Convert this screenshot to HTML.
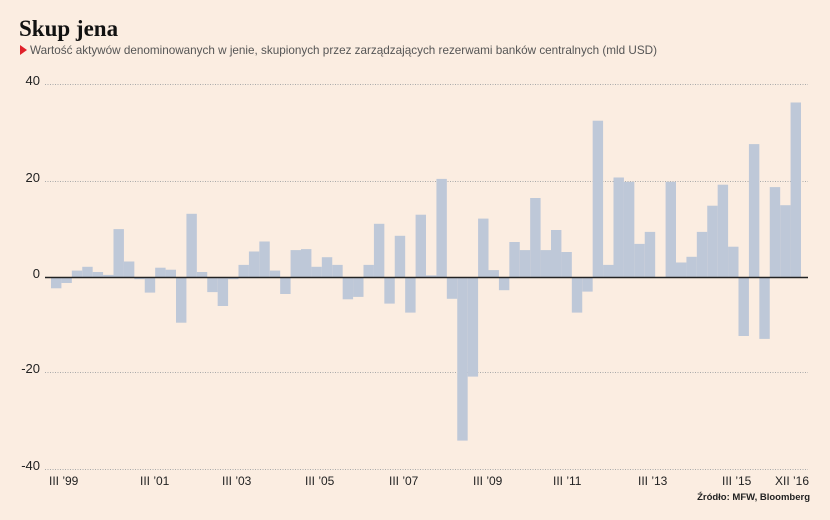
<!DOCTYPE html>
<html><head><meta charset="utf-8"><style>
html,body{margin:0;padding:0;background:#fbede1;}
svg{display:block;}
</style></head><body>
<svg width="830" height="520" xmlns="http://www.w3.org/2000/svg" font-family="Liberation Sans, sans-serif">
<rect width="830" height="520" fill="#fbede1"/>
<text x="19" y="36" font-family="Liberation Serif, serif" font-weight="bold" font-size="23" fill="#111">Skup jena</text>
<polygon points="20,45 27,50 20,55" fill="#e0202a"/>
<text x="30" y="54" font-size="12" fill="#555" textLength="627" lengthAdjust="spacingAndGlyphs">Wartość aktywów denominowanych w jenie, skupionych przez zarządzających rezerwami banków centralnych (mld USD)</text>
<g stroke="#aaa" stroke-width="1" stroke-dasharray="1,1.5">
<line x1="45" y1="84.5" x2="808" y2="84.5"/>
<line x1="45" y1="181.5" x2="808" y2="181.5"/>
<line x1="45" y1="372.5" x2="808" y2="372.5"/>
<line x1="45" y1="469.5" x2="808" y2="469.5"/>
</g>
<g font-size="13" fill="#222" text-anchor="end">
<text x="40" y="85">40</text>
<text x="40" y="182">20</text>
<text x="40" y="278">0</text>
<text x="40" y="373">-20</text>
<text x="40" y="470">-40</text>
</g>
<g fill="#bec8d8">
<rect x="51.0" y="277.3" width="10.42" height="11.0"/>
<rect x="61.42" y="277.3" width="10.42" height="5.7"/>
<rect x="71.83" y="270.6" width="10.42" height="6.7"/>
<rect x="82.25" y="266.8" width="10.42" height="10.5"/>
<rect x="92.67" y="272.0" width="10.42" height="5.3"/>
<rect x="103.08" y="274.9" width="10.42" height="2.4"/>
<rect x="113.5" y="229.1" width="10.42" height="48.2"/>
<rect x="123.92" y="261.5" width="10.42" height="15.8"/>
<rect x="134.33" y="277.3" width="10.42" height="1.9"/>
<rect x="144.75" y="277.3" width="10.42" height="15.3"/>
<rect x="155.17" y="267.7" width="10.42" height="9.6"/>
<rect x="165.58" y="269.7" width="10.42" height="7.6"/>
<rect x="176.0" y="277.3" width="10.42" height="45.4"/>
<rect x="186.42" y="213.8" width="10.42" height="63.5"/>
<rect x="196.83" y="272.0" width="10.42" height="5.3"/>
<rect x="207.25" y="277.3" width="10.42" height="14.8"/>
<rect x="217.67" y="277.3" width="10.42" height="28.7"/>
<rect x="228.08" y="277.3" width="10.42" height="1.9"/>
<rect x="238.5" y="264.9" width="10.42" height="12.4"/>
<rect x="248.92" y="251.5" width="10.42" height="25.8"/>
<rect x="259.33" y="241.5" width="10.42" height="35.8"/>
<rect x="269.75" y="270.6" width="10.42" height="6.7"/>
<rect x="280.17" y="277.3" width="10.42" height="16.7"/>
<rect x="290.58" y="250.1" width="10.42" height="27.2"/>
<rect x="301.0" y="249.1" width="10.42" height="28.2"/>
<rect x="311.42" y="266.8" width="10.42" height="10.5"/>
<rect x="321.83" y="257.2" width="10.42" height="20.1"/>
<rect x="332.25" y="264.9" width="10.42" height="12.4"/>
<rect x="342.67" y="277.3" width="10.42" height="22.0"/>
<rect x="353.08" y="277.3" width="10.42" height="19.6"/>
<rect x="363.5" y="264.9" width="10.42" height="12.4"/>
<rect x="373.92" y="223.8" width="10.42" height="53.5"/>
<rect x="384.33" y="277.3" width="10.42" height="26.3"/>
<rect x="394.75" y="235.8" width="10.42" height="41.5"/>
<rect x="405.17" y="277.3" width="10.42" height="35.3"/>
<rect x="415.58" y="214.7" width="10.42" height="62.6"/>
<rect x="426.0" y="275.4" width="10.42" height="1.9"/>
<rect x="436.42" y="178.9" width="10.42" height="98.4"/>
<rect x="446.83" y="277.3" width="10.42" height="21.5"/>
<rect x="457.25" y="277.3" width="10.42" height="163.3"/>
<rect x="467.67" y="277.3" width="10.42" height="99.3"/>
<rect x="478.08" y="218.6" width="10.42" height="58.7"/>
<rect x="488.5" y="270.1" width="10.42" height="7.2"/>
<rect x="498.92" y="277.3" width="10.42" height="12.9"/>
<rect x="509.33" y="242.0" width="10.42" height="35.3"/>
<rect x="519.75" y="250.1" width="10.42" height="27.2"/>
<rect x="530.17" y="198.0" width="10.42" height="79.3"/>
<rect x="540.58" y="250.1" width="10.42" height="27.2"/>
<rect x="551.0" y="230.0" width="10.42" height="47.3"/>
<rect x="561.42" y="252.0" width="10.42" height="25.3"/>
<rect x="571.83" y="277.3" width="10.42" height="35.3"/>
<rect x="582.25" y="277.3" width="10.42" height="14.3"/>
<rect x="592.67" y="120.7" width="10.42" height="156.6"/>
<rect x="603.08" y="264.9" width="10.42" height="12.4"/>
<rect x="613.5" y="177.5" width="10.42" height="99.8"/>
<rect x="623.92" y="181.8" width="10.42" height="95.5"/>
<rect x="634.33" y="243.9" width="10.42" height="33.4"/>
<rect x="644.75" y="231.9" width="10.42" height="45.4"/>
<rect x="665.58" y="181.8" width="10.42" height="95.5"/>
<rect x="676.0" y="262.5" width="10.42" height="14.8"/>
<rect x="686.42" y="256.8" width="10.42" height="20.5"/>
<rect x="696.83" y="231.9" width="10.42" height="45.4"/>
<rect x="707.25" y="205.7" width="10.42" height="71.6"/>
<rect x="717.67" y="184.7" width="10.42" height="92.6"/>
<rect x="728.08" y="246.7" width="10.42" height="30.6"/>
<rect x="738.5" y="277.3" width="10.42" height="58.7"/>
<rect x="748.92" y="144.1" width="10.42" height="133.2"/>
<rect x="759.33" y="277.3" width="10.42" height="61.6"/>
<rect x="769.75" y="187.1" width="10.42" height="90.2"/>
<rect x="780.17" y="205.2" width="10.42" height="72.1"/>
<rect x="790.58" y="102.5" width="10.42" height="174.8"/>
</g>
<line x1="45" y1="277.5" x2="808" y2="277.5" stroke="#222" stroke-width="1.5"/>
<g font-size="12" fill="#222">
<text x="49" y="485">III ’99</text>
<text x="140" y="485">III ’01</text>
<text x="222" y="485">III ’03</text>
<text x="305" y="485">III ’05</text>
<text x="389" y="485">III ’07</text>
<text x="473" y="485">III ’09</text>
<text x="553" y="485">III ’11</text>
<text x="638" y="485">III ’13</text>
<text x="722" y="485">III ’15</text>
<text x="775" y="485">XII ’16</text>
</g>
<text x="810" y="500" font-size="9.5" font-weight="bold" fill="#222" text-anchor="end">Źródło: MFW, Bloomberg</text>
</svg>
</body></html>
